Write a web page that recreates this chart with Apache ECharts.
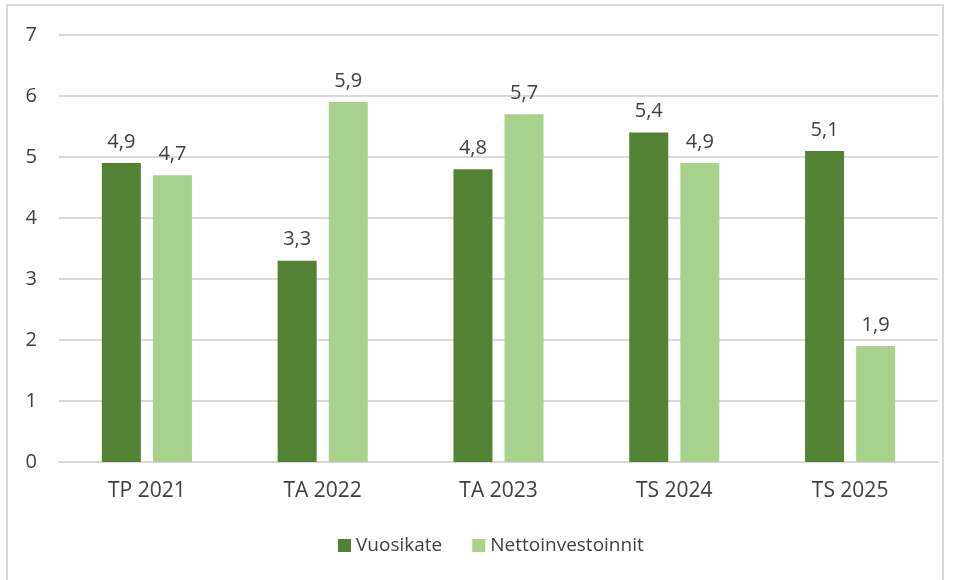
<!DOCTYPE html>
<html><head><meta charset="utf-8">
<script src="https://cdn.jsdelivr.net/npm/echarts@6/dist/echarts.min.js"></script>
<style>html,body{margin:0;padding:0;background:#fff;overflow:hidden}#c{width:953px;height:580px}</style>
</head><body><div id="c"></div>
<script>
const categories = ['TP 2021','TA 2022','TA 2023','TS 2024','TS 2025'];
const vuosikate = [4.9, 3.3, 4.8, 5.4, 5.1];
const nettoinvestoinnit = [4.7, 5.9, 5.7, 4.9, 1.9];
const seriesNames = ['Vuosikate','Nettoinvestoinnit'];
const yTicks = {min:0, max:7, interval:1};
const font = 'Open Sans';
const chart = echarts.init(document.getElementById('c'));
const lbl = {show:true, position:'top', distance:11, color:'#404040', fontSize:20, fontFamily:font,
  formatter: p => String(p.value).replace('.', ',')};
chart.setOption({
  animation:false,
  graphic:[{type:'rect', shape:{x:7,y:5,width:936,height:600}, style:{fill:'none', stroke:'#d9d9d9', lineWidth:2}}],
  grid:{left:59, right:15, top:35, bottom:118, containLabel:false},
  legend:{bottom:20, left:333, itemWidth:13, itemHeight:13, itemGap:30, icon:'rect',
    textStyle:{color:'#404040', fontSize:19, fontFamily:font}, data:seriesNames},
  xAxis:{type:'category', data:categories, axisTick:{show:false},
    axisLine:{lineStyle:{color:'#d9d9d9', width:2}},
    axisLabel:{color:'#404040', fontSize:21, fontFamily:font, margin:19}},
  yAxis:{type:'value', min:yTicks.min, max:yTicks.max, interval:yTicks.interval,
    axisLine:{show:false}, axisTick:{show:false},
    splitLine:{lineStyle:{color:'#d9d9d9', width:2}},
    axisLabel:{color:'#404040', fontSize:20, fontFamily:font, margin:22}},
  series:[
    {name:seriesNames[0], type:'bar', data:vuosikate, barWidth:39, barGap:'31%', itemStyle:{color:'#548235'}, label:lbl},
    {name:seriesNames[1], type:'bar', data:nettoinvestoinnit, barWidth:39, itemStyle:{color:'#A9D18E'}, label:lbl}
  ]
});
</script></body></html>
